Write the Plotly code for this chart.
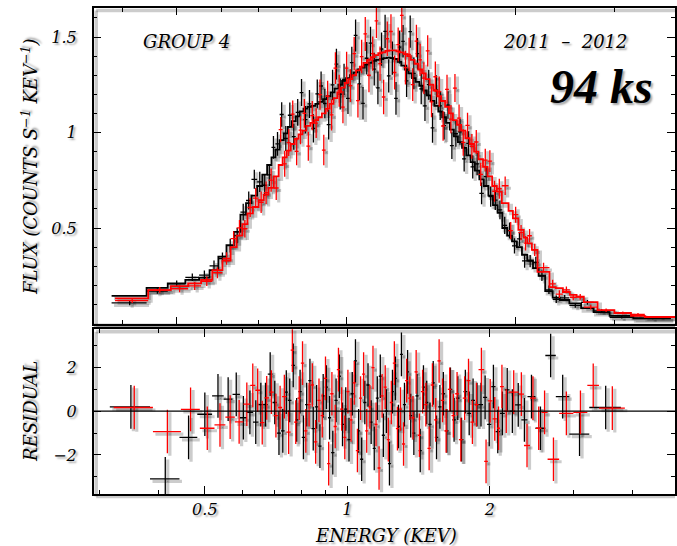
import math
import plotly.graph_objects as go

# ---------------- data ----------------
black_edges = [0.315, 0.383, 0.442, 0.482, 0.518, 0.548, 0.572, 0.593, 0.613, 0.632, 0.649, 0.664, 0.679,
               0.695, 0.710, 0.724, 0.737, 0.749, 0.762,
               0.775, 0.788, 0.801, 0.814, 0.827, 0.840, 0.854, 0.868, 0.882, 0.896, 0.910, 0.924, 0.939,
               0.954, 0.969, 0.984, 1.000, 1.016, 1.032, 1.048, 1.064, 1.080, 1.097, 1.114, 1.131, 1.148,
               1.165, 1.182, 1.200, 1.218, 1.236, 1.254, 1.272, 1.291, 1.310, 1.330, 1.350, 1.371, 1.392,
               1.414, 1.436, 1.459, 1.482, 1.506, 1.530, 1.555, 1.581, 1.608, 1.636, 1.665, 1.695, 1.726,
               1.758, 1.791, 1.825, 1.860, 1.896,
               1.934, 1.973, 2.013, 2.055, 2.100, 2.150, 2.200, 2.260, 2.330, 2.400, 2.495, 2.618, 2.755,
               2.942, 3.242, 3.780]
black_model = [0.13, 0.145, 0.187, 0.21, 0.228, 0.24, 0.28, 0.35, 0.41, 0.48, 0.57, 0.63, 0.67, 0.72, 0.78,
               0.83, 0.87, 0.91,
               0.96, 0.995, 1.03, 1.06, 1.085, 1.11, 1.125, 1.135, 1.14, 1.15,
               1.16, 1.175, 1.19, 1.21, 1.23, 1.25, 1.27, 1.285, 1.30, 1.315,
               1.33, 1.34, 1.355, 1.365, 1.375, 1.38, 1.385, 1.39, 1.392, 1.39,
               1.385, 1.37, 1.35, 1.33, 1.31, 1.285, 1.265, 1.245, 1.22, 1.195,
               1.165, 1.14, 1.11, 1.08, 1.05, 1.015, 0.98, 0.95, 0.92, 0.88,
               0.845, 0.80, 0.755, 0.72, 0.67, 0.62, 0.58,
               0.50, 0.46, 0.43, 0.40, 0.36, 0.33, 0.29, 0.25, 0.17, 0.135, 0.123, 0.105, 0.08, 0.06,
               0.04, 0.027]
black_resid = [0.2, -3.1, -1.2, -0.14, 0.7, 0.55, 0.77, -0.3, -0.05, -0.5, 0.3, 0.3, 1.7, 0.4, -1.0, -0.9,
               0.87, 0.5,
               2.1, -0.4, 0.9, -1.2, 0.3, 1.4, -0.8, 0.2, -1.6, 0.7,
               1.1, -0.3, -1.9, 0.5, 1.6, -0.6, 0.1, -1.3, 0.8, 2.3,
               -0.9, -2.2, 0.4, 1.2, -0.5, -1.7, 0.6, 1.6, -1.1, 0.0,
               -2.4, 0.9, 1.5, -0.7, 2.6, 0.3, 1.8, -0.2, -1.0, 0.7,
               -1.8, 1.1, 0.4, -0.6, 1.3, -1.2, 0.2, 0.8, -0.9, 1.0,
               -0.4, 0.6, -1.3, 0.9, -0.1, 0.5, 0.3,
               0.3, 0.63, -0.6, 1.13, -0.93, -0.1, 0.98, 0.0, 0.29, -0.4, 0.67, -0.78, 2.55, 0.67,
               -1.05, 0.17]
black_err = [0.012, 0.012, 0.014, 0.017, 0.02, 0.024, 0.028, 0.032, 0.036, 0.04, 0.044, 0.047, 0.05, 0.053,
             0.056, 0.058, 0.06, 0.062,
             0.064, 0.066, 0.067, 0.068, 0.07, 0.071, 0.072, 0.073, 0.074, 0.075,
             0.076, 0.077, 0.078, 0.079, 0.08, 0.081, 0.082, 0.082, 0.083, 0.084,
             0.084, 0.085, 0.085, 0.086, 0.086, 0.086, 0.087, 0.087, 0.087, 0.087,
             0.086, 0.086, 0.085, 0.085, 0.084, 0.083, 0.082, 0.081, 0.08, 0.079,
             0.078, 0.076, 0.075, 0.073, 0.072, 0.07, 0.068, 0.067, 0.065, 0.063,
             0.061, 0.059, 0.057, 0.055, 0.053, 0.051, 0.049,
             0.045, 0.042, 0.04, 0.038, 0.035, 0.032, 0.03, 0.027, 0.022, 0.02, 0.016, 0.013, 0.012,
             0.009, 0.007, 0.005]

red_edges = [0.321, 0.3885, 0.445, 0.488, 0.524, 0.5525, 0.5785, 0.603, 0.6235, 0.639, 0.654, 0.668, 0.683,
             0.699, 0.714, 0.728, 0.744, 0.759,
             0.7715, 0.7845, 0.7975, 0.8105, 0.8235, 0.8365, 0.850, 0.864, 0.878, 0.892,
             0.906, 0.920, 0.935, 0.950, 0.965, 0.980, 0.995, 1.010, 1.026, 1.042,
             1.058, 1.074, 1.090, 1.107, 1.124, 1.141, 1.158, 1.175, 1.193, 1.211,
             1.229, 1.247, 1.266, 1.285, 1.304, 1.324, 1.344, 1.365, 1.386, 1.408,
             1.430, 1.453, 1.476, 1.500, 1.524, 1.549, 1.575, 1.602, 1.630, 1.659,
             1.689, 1.720, 1.752, 1.785, 1.819, 1.854,
             1.892, 1.945, 1.980, 2.025, 2.070, 2.100, 2.140, 2.190, 2.300, 2.360, 2.430, 2.500,
             2.570, 2.647, 2.800, 3.000, 3.211, 3.398, 3.854]
red_model = [0.12, 0.132, 0.175, 0.196, 0.21, 0.228, 0.28, 0.33, 0.40, 0.46, 0.52, 0.577, 0.61, 0.646,
             0.675, 0.71, 0.77,
             0.83, 0.87, 0.905, 0.94, 0.967, 0.99, 1.01, 1.035, 1.05, 1.065,
             1.08, 1.10, 1.125, 1.15, 1.18, 1.21, 1.235, 1.26, 1.28, 1.30,
             1.325, 1.345, 1.365, 1.38, 1.395, 1.405, 1.415, 1.42, 1.428, 1.43,
             1.43, 1.425, 1.42, 1.41, 1.40, 1.38, 1.36, 1.33, 1.31, 1.28,
             1.25, 1.22, 1.19, 1.165, 1.135, 1.10, 1.065, 1.04, 1.01, 0.97,
             0.94, 0.90, 0.86, 0.82, 0.77, 0.72,
             0.69, 0.63, 0.59, 0.55, 0.49, 0.45, 0.42, 0.385, 0.27, 0.19, 0.185, 0.165, 0.15, 0.14,
             0.112, 0.07, 0.055, 0.04, 0.034]
red_resid = [0.17, -0.93, 0.08, -0.78, -0.63, -0.27, -0.49, 0.32, 1.18, 0.96, -0.52, 0.61, 0.87, -0.2,
             0.17, 0.67, -0.96,
             2.8, -0.5, 0.6, 2.2, -0.9, 0.3, 1.2, -1.4, 0.5, -0.2,
             1.5, -2.4, 0.8, -0.7, 1.9, 0.1, -1.2, 0.9, -0.4, 1.3,
             -1.8, 0.6, 1.7, -0.9, 0.2, 2.0, -0.6, -2.6, 0.7, 1.1,
             -1.3, 0.4, 2.2, -0.8, 0.1, -1.5, 1.4, 0.6, -0.3, 1.8,
             -1.1, 0.9, 0.3, -1.7, 1.2, -0.4, 2.3, 0.5, -0.9, 1.0,
             -0.2, 0.8, -1.3, 0.6, 1.4, -0.5,
             0.3, 1.9, -2.3, 0.47, -0.35, -0.78, 1.13, 0.0, 0.87, 0.78, -1.57, 0.6, -0.78, -0.05,
             -2.2, -0.1, -0.05, 1.18, 0.14]
red_err = [0.012, 0.013, 0.015, 0.018, 0.021, 0.025, 0.029, 0.033, 0.038, 0.042, 0.046, 0.05, 0.053,
           0.056, 0.059, 0.061, 0.063,
           0.066, 0.068, 0.07, 0.071, 0.073, 0.074, 0.075, 0.076, 0.077, 0.078,
           0.079, 0.08, 0.081, 0.082, 0.083, 0.084, 0.085, 0.086, 0.086, 0.087,
           0.088, 0.088, 0.089, 0.089, 0.09, 0.09, 0.09, 0.09, 0.09, 0.09,
           0.089, 0.089, 0.088, 0.088, 0.087, 0.086, 0.085, 0.084, 0.083, 0.082,
           0.081, 0.08, 0.079, 0.077, 0.076, 0.074, 0.073, 0.071, 0.069, 0.067,
           0.065, 0.063, 0.061, 0.059, 0.057, 0.055,
           0.052, 0.048, 0.045, 0.042, 0.04, 0.038, 0.035, 0.032, 0.026, 0.022, 0.02, 0.018,
           0.016, 0.015, 0.012, 0.009, 0.008, 0.007, 0.005]

flux_ticks = [0.5, 1, 1.5]
flux_tick_text = ["0.5", "1", "1.5"]
resid_ticks = [-2, 0, 2]
resid_tick_text = ["\u22122", "0", "2"]
energy_ticks = [0.5, 1, 2, 5]
energy_tick_text = ["0.5", "1", "2", "5"]
energy_minor = [0.3, 0.4, 0.6, 0.7, 0.8, 0.9, 3, 4]

# ---------------- figure ----------------
W, H = 677, 546
LEFT, RIGHT = 94, 677
TOP1, BOT1 = 8, 323.5
TOP2, BOT2 = 329.3, 494

X1_RANGE = [math.log10(0.356), math.log10(3.845)]
Y1_RANGE = [0, 1.652]
X2_RANGE = [math.log10(0.2913), math.log10(4.918)]
Y2_RANGE = [-3.79, 3.75]

SHADOW_PX = 2.5
SHADOW_COL = "rgba(0,0,0,0.20)"


def px(x):
    return x / W


def py(y):
    return 1 - y / H


def shadow_shift(xr, yr, top, bot):
    """Data-space offsets that move a mark SHADOW_PX right and down."""
    fx = 10 ** (SHADOW_PX * (xr[1] - xr[0]) / (RIGHT - LEFT))
    dy = -SHADOW_PX * (yr[1] - yr[0]) / (bot - top)
    return fx, dy


SERIF = "DejaVu Serif"
TXT_SHADOW = "2px 2px 2px rgba(0,0,0,0.35)"

fig = go.Figure()


def crosses(x, y, xlo, xhi, yerr, color, thick, xa, ya):
    return go.Scatter(
        x=x, y=y, mode="markers", xaxis=xa, yaxis=ya,
        marker=dict(size=1, color=color),
        error_x=dict(type="data", symmetric=False,
                     array=[h - c for h, c in zip(xhi, x)],
                     arrayminus=[c - l for c, l in zip(x, xlo)],
                     width=0, thickness=thick, color=color),
        error_y=dict(type="data", array=yerr, width=0, thickness=thick, color=color),
        showlegend=False, hoverinfo="skip")


def add_series(edges, model, resid, err, color, with_shadow):
    n = len(model)
    lo = list(edges[:-1])
    hi = list(edges[1:])
    cen = [(a + b) / 2 for a, b in zip(lo, hi)]
    flux = [m + r * e for m, r, e in zip(model, resid, err)]
    s = slice(1, n)  # lowest bin lies left of the upper panel's range
    step_x = list(edges[1:])
    step_y = list(model[1:]) + [model[-1]]
    ones = [1.0] * n

    layers = []
    if with_shadow:
        fx1, dy1 = shadow_shift(X1_RANGE, Y1_RANGE, TOP1, BOT1)
        fx2, dy2 = shadow_shift(X2_RANGE, Y2_RANGE, TOP2, BOT2)
        layers.append((SHADOW_COL, 3.2, 4.0, fx1, dy1, fx2, dy2))
    layers.append((color, 1.3, 1.8, 1.0, 0.0, 1.0, 0.0))

    for col, thick, lw, fx1, dy1, fx2, dy2 in layers:
        fig.add_trace(crosses([c * fx1 for c in cen[s]], [f + dy1 for f in flux[s]],
                              [l * fx1 for l in lo[s]], [h * fx1 for h in hi[s]],
                              err[s], col, thick, "x", "y"))
        fig.add_trace(go.Scatter(
            x=[e * fx1 for e in step_x], y=[v + dy1 for v in step_y], mode="lines",
            line=dict(shape="hv", color=col, width=lw), xaxis="x", yaxis="y",
            showlegend=False, hoverinfo="skip"))
        fig.add_trace(crosses([c * fx2 for c in cen], [r + dy2 for r in resid],
                              [l * fx2 for l in lo], [h * fx2 for h in hi],
                              ones, col, thick, "x2", "y2"))


add_series(black_edges, black_model, black_resid, black_err, "black", True)
add_series(red_edges, red_model, red_resid, red_err, "#ff0000", True)

tickfont = dict(family=SERIF, size=16, color="black", style="italic", shadow=TXT_SHADOW)
common = dict(showline=True, linecolor="black", linewidth=1.5, mirror="ticks", ticks="inside",
              tickcolor="black", tickwidth=1.2, showgrid=False, zeroline=False)
minor_common = dict(ticklen=4, ticks="inside", tickcolor="black", tickwidth=1.2)

fig.update_layout(
    width=W, height=H, margin=dict(l=0, r=0, t=0, b=0),
    paper_bgcolor="white", plot_bgcolor="white",
    xaxis=dict(type="log", domain=[px(LEFT), px(RIGHT)], anchor="y", range=X1_RANGE,
               tickvals=[0.5, 1, 2], showticklabels=False, ticklen=7,
               minor=dict(tickvals=[0.4, 0.6, 0.7, 0.8, 0.9, 3], **minor_common),
               **common),
    yaxis=dict(domain=[py(BOT1), py(TOP1)], anchor="x", range=Y1_RANGE,
               tickvals=flux_ticks, ticktext=flux_tick_text, ticklen=8, tickfont=tickfont,
               ticklabelstandoff=12, minor=dict(dtick=0.1, **minor_common), **common),
    xaxis2=dict(type="log", domain=[px(LEFT), px(RIGHT)], anchor="y2", range=X2_RANGE,
                tickvals=energy_ticks, ticktext=energy_tick_text, ticklen=8, tickfont=tickfont,
                ticklabelstandoff=0,
                minor=dict(tickvals=energy_minor, **minor_common), **common),
    yaxis2=dict(domain=[py(BOT2), py(TOP2)], anchor="x2", range=Y2_RANGE,
                tickvals=resid_ticks, ticktext=resid_tick_text, ticklen=8, tickfont=tickfont,
                ticklabelstandoff=12, minor=dict(dtick=1, **minor_common), **common),
)

# grey gap between the two panels and soft shadows of the frames
fig.add_shape(type="rect", xref="paper", yref="paper", x0=px(LEFT), x1=1,
              y0=py(TOP2), y1=py(BOT1), fillcolor="#c4c4c4", line=dict(width=0), layer="below")
for top, bot in ((TOP1, BOT1), (TOP2, BOT2)):
    d = SHADOW_PX
    fig.add_shape(type="line", xref="paper", yref="paper", x0=px(LEFT + d), x1=1,
                  y0=py(bot + d), y1=py(bot + d), line=dict(color=SHADOW_COL, width=3.5))
    fig.add_shape(type="line", xref="paper", yref="paper", x0=px(LEFT + d), x1=1,
                  y0=py(top + d), y1=py(top + d), line=dict(color=SHADOW_COL, width=3.5))
    fig.add_shape(type="line", xref="paper", yref="paper", x0=px(LEFT + d), x1=px(LEFT + d),
                  y0=py(bot + d), y1=py(top + d), line=dict(color=SHADOW_COL, width=3.5))

fig.add_shape(type="line", xref="x2 domain", yref="y2", x0=0, x1=1, y0=0, y1=0,
              line=dict(color="black", width=1.3))

lab = dict(family=SERIF, size=18, color="black", style="italic", shadow=TXT_SHADOW)
annots = [
    dict(text="GROUP 4", x=px(187), y=py(42), font=lab),
    dict(text="2011  \u2013  2012", x=px(567), y=py(42), font=lab),
    dict(text="94 ks", x=px(603), y=py(86),
         font=dict(family="Liberation Serif", size=48, color="black", style="italic", weight=700,
                   shadow=TXT_SHADOW)),
    dict(text="FLUX (COUNTS S<sup>\u22121</sup> KEV<sup>\u22121</sup>)", x=px(30), y=py(166),
         textangle=-90, font=lab),
    dict(text="RESIDUAL", x=px(30), y=py(411), textangle=-90, font=lab),
    dict(text="ENERGY (KEV)", x=px(387), y=py(535), font=lab),
]
for a in annots:
    fig.add_annotation(xref="paper", yref="paper", showarrow=False, xanchor="center",
                       yanchor="middle", **a)

fig.write_html("out.html")
